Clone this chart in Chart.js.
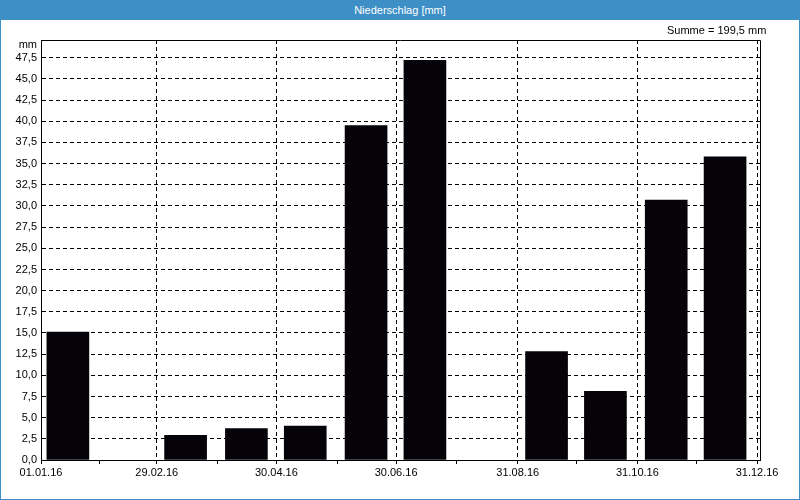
<!DOCTYPE html>
<html>
<head>
<meta charset="utf-8">
<script src="https://cdn.jsdelivr.net/npm/chart.js@4"></script>
<style>
    html, body { margin: 0; padding: 0; background: #fff; }
    .window { position: relative; width: 800px; height: 500px; overflow: hidden; }
    .frame { position: absolute; left: 0; top: 0; width: 800px; height: 500px; box-sizing: border-box;
             border: 1px solid #3d8fc6; border-top: none; pointer-events: none; }
    .title-bar { position: absolute; left: 0; top: 0; width: 800px; height: 20px; background: #3d8fc6;
                 color: #fff; font: 11px "Liberation Sans", Arial, sans-serif; line-height: 20px; text-align: center; }
    canvas { position: absolute; left: 0; top: 0; }
</style>
</head>
<body>
<div class="window">
    <canvas id="rainChart" width="800" height="500"></canvas>
    <div class="frame"></div>
    <div class="title-bar">Niederschlag [mm]</div>
</div>
<script>
// --- Data ---
const months = ['Jan', 'Feb', 'Mär', 'Apr', 'Mai', 'Jun', 'Jul', 'Aug', 'Sep', 'Okt', 'Nov', 'Dez'];
const monthDays = [31, 29, 31, 30, 31, 30, 31, 31, 30, 31, 30, 31];
const rainfall = [15.1, 0, 2.9, 3.7, 4.0, 39.5, 47.2, 0, 12.8, 8.1, 30.7, 35.8];
const tickDays = [0, 30, 59, 90, 120, 151, 181, 212, 243, 273, 304, 334, 365];
const tickLabels = ['01.01.16', '', '29.02.16', '', '30.04.16', '', '30.06.16', '', '31.08.16', '', '31.10.16', '', '31.12.16'];
const sumText = 'Summe = 199,5 mm';
const unitText = 'mm';

// bars sit on the middle of each month (day of year, 0 = 01.01.16)
const monthStart = monthDays.map((d, i) => monthDays.slice(0, i).reduce((a, b) => a + b, 0));
const barPoints = rainfall.map((v, i) => ({ x: monthStart[i] + 13.7, y: v }));

const FONT = { family: '"Liberation Sans", Arial, sans-serif', size: 11 };

// frame around plot + extra texts
const framePlugin = {
    id: 'frame',
    afterDraw(chart) {
        const { ctx, chartArea: a } = chart;
        ctx.save();
        ctx.strokeStyle = '#000';
        ctx.lineWidth = 1;
        ctx.beginPath();
        ctx.moveTo(a.left, a.top + 0.5);
        ctx.lineTo(a.right + 0.5, a.top + 0.5);
        ctx.lineTo(a.right + 0.5, a.bottom);
        ctx.stroke();
        ctx.fillStyle = '#000';
        ctx.font = FONT.size + 'px ' + FONT.family;
        ctx.textBaseline = 'middle';
        ctx.textAlign = 'right';
        ctx.fillText(unitText, a.left - 4, a.top + 5);
        ctx.textAlign = 'left';
        ctx.fillText(sumText, 667, 31);
        ctx.restore();
    }
};

const ctx = document.getElementById('rainChart').getContext('2d');
new Chart(ctx, {
    type: 'bar',
    data: {
        labels: months,
        datasets: [{
            label: 'Niederschlag',
            data: barPoints,
            backgroundColor: c => (c.raw && c.raw.y > 0) ? '#050308' : 'rgba(0,0,0,0)',
            borderWidth: 0,
            barThickness: 42
        }]
    },
    options: {
        responsive: false,
        animation: false,
        layout: { padding: { top: 40, left: 0, right: 40, bottom: 0 } },
        plugins: { legend: { display: false }, tooltip: { enabled: false }, title: { display: false } },
        scales: {
            x: {
                type: 'linear',
                min: 0,
                max: 366.5,
                offset: false,
                afterBuildTicks: axis => { axis.ticks = tickDays.map(v => ({ value: v })); },
                afterFit: axis => { axis.height = 40; },
                ticks: {
                    autoSkip: false,
                    maxRotation: 0,
                    padding: 2,
                    color: '#000',
                    font: FONT,
                    callback: (value, index) => tickLabels[index]
                },
                grid: {
                    offset: false,
                    color: c => (c.tick && tickLabels[c.index] && c.index > 0) ? '#000' : 'rgba(0,0,0,0)',
                    tickColor: '#000',
                    tickLength: 4,
                    lineWidth: 1
                },
                border: { display: true, color: '#000', width: 1, dash: [4, 3] }
            },
            y: {
                min: 0,
                max: 49.6,
                afterBuildTicks: axis => {
                    const t = [];
                    for (let v = 0; v <= 47.5; v += 2.5) t.push({ value: v });
                    axis.ticks = t;
                },
                afterFit: axis => { axis.width = 41; },
                ticks: {
                    padding: 4,
                    color: '#000',
                    font: FONT,
                    callback: value => value.toFixed(1).replace('.', ',')
                },
                grid: {
                    drawTicks: false,
                    color: c => (c.tick && c.tick.value > 0) ? '#000' : 'rgba(0,0,0,0)',
                    lineWidth: 1
                },
                border: { display: true, color: '#000', width: 1, dash: [4, 3] }
            }
        }
    },
    plugins: [framePlugin]
});
</script>
</body>
</html>
